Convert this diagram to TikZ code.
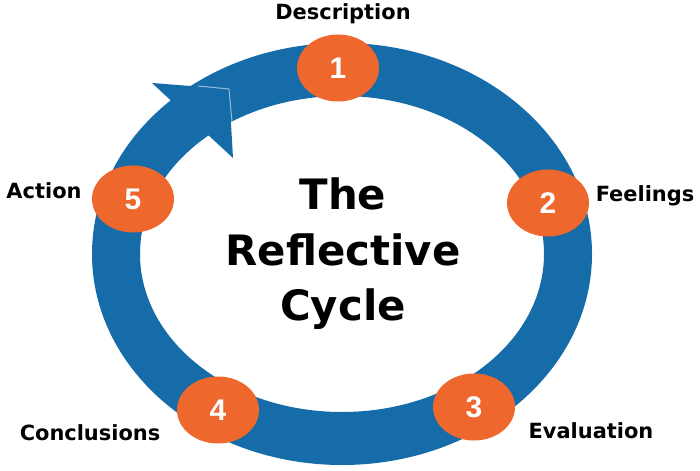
\documentclass[tikz,border=0pt]{standalone}
\usepackage{fontspec}
\setmainfont{DejaVu Sans}
\newfontfamily\numfont{Liberation Sans}
\usetikzlibrary{shapes.geometric}
\definecolor{ringblue}{RGB}{22,108,168}
\definecolor{dotorange}{RGB}{238,104,46}
\begin{document}
\begin{tikzpicture}[x=1bp,y=-1bp,
  stage/.style={ellipse, fill=dotorange, minimum width=82bp, minimum height=67bp, inner sep=0pt,
    text=white, font=\numfont\bfseries\fontsize{30}{30}\selectfont},
  lbl/.style={anchor=base, inner sep=0pt, font=\bfseries\fontsize{21}{21}\selectfont}]
\useasboundingbox (0,0) rectangle (700,471);
\fill[white] (0,0) rectangle (700,471);
\coordinate (c) at (342,254);
% ring
\fill[ringblue, even odd rule] (c) ellipse [x radius=250bp, y radius=211bp]
  (c) ellipse [x radius=202bp, y radius=158bp];
% arrowhead
\coordinate (barbA) at (152,83);
\coordinate (tip) at (229,89);
\coordinate (barbB) at (233,158);
\coordinate (seamS) at (198,86);
\coordinate (seamE) at (232,122);
\fill[ringblue] (barbA) -- (tip) -- (barbB) -- cycle;
\draw[ringblue!45!white, line width=1bp] (seamS) -- (tip) -- (seamE);
% stages
\node[stage] (s1) at (338,68) {1};
\node[stage] (s2) at (548,203) {2};
\node[stage] (s3) at (474,407) {3};
\node[stage] (s4) at (218,410) {4};
\node[stage] (s5) at (133,199) {5};
% labels
\node[lbl] (l1) at (343,20) {Description};
\node[lbl] (l2) at (645,202) {Feelings};
\node[lbl] (l3) at (591,438) {Evaluation};
\node[lbl] (l4) at (90,440) {Conclusions};
\node[lbl] (l5) at (44,199) {Action};
% title
\node[inner sep=0pt, anchor=base] (t1) at (343,210) {\bfseries\fontsize{42}{42}\selectfont The};
\node[inner sep=0pt, anchor=base] (t2) at (343,266) {\bfseries\fontsize{42}{42}\selectfont Reflective};
\node[inner sep=0pt, anchor=base] (t3) at (343,321) {\bfseries\fontsize{42}{42}\selectfont Cycle};
\end{tikzpicture}
\end{document}
